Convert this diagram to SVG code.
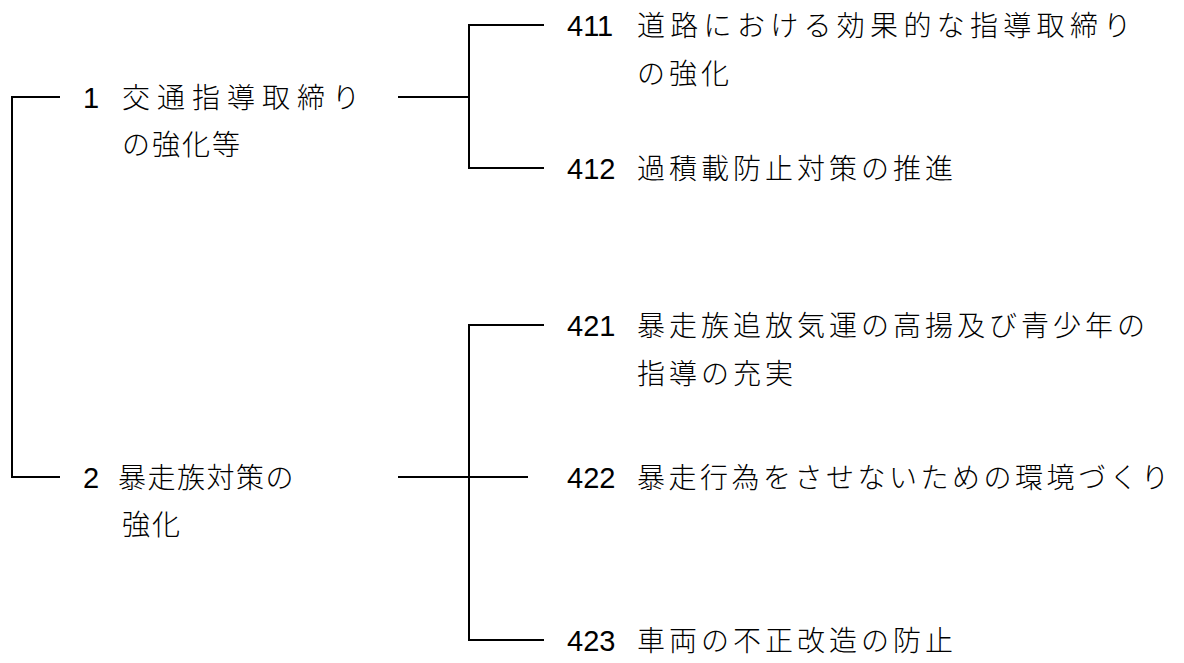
<svg xmlns="http://www.w3.org/2000/svg" width="1184" height="663" viewBox="0 0 1184 663">
<style>
.ln{stroke:#000;stroke-width:2;fill:none}
.num{font-family:"Liberation Sans",Arial,sans-serif;font-size:29px;fill:#000}
.jp{font-family:"Noto Sans CJK JP",sans-serif;font-size:28px;font-weight:300;fill:#000}
.s4{letter-spacing:4px}
</style>
<rect width="1184" height="663" fill="#fff"/>
<g id="connectors">
<path class="ln" d="M60 97 H12 V477 H60"/>
<path class="ln" d="M398 97 H469"/>
<path class="ln" d="M544 25 H469 V168 H544"/>
<path class="ln" d="M398 477 H528"/>
<path class="ln" d="M544 325 H469 V640 H544"/>
</g>
<g id="n1">
<text class="num" x="83" y="108">1</text>
<text class="jp" x="122" y="108" style="letter-spacing:7px">交通指導取締り</text>
<text class="jp" x="122" y="155" style="letter-spacing:2px">の強化等</text>
</g>
<g id="n2">
<text class="num" x="83" y="488">2</text>
<text class="jp" x="118" y="488" style="letter-spacing:1.5px">暴走族対策の</text>
<text class="jp" x="122" y="535" style="letter-spacing:2px">強化</text>
</g>
<g id="n411">
<text class="num" x="567" y="36">411</text>
<text class="jp" x="637" y="36" style="letter-spacing:5.3px">道路における効果的な指導取締り</text>
<text class="jp s4" x="637" y="84">の強化</text>
</g>
<g id="n412">
<text class="num" x="567" y="179">412</text>
<text class="jp s4" x="637" y="179">過積載防止対策の推進</text>
</g>
<g id="n421">
<text class="num" x="567" y="336">421</text>
<text class="jp s4" x="637" y="336">暴走族追放気運の高揚及び青少年の</text>
<text class="jp s4" x="637" y="384">指導の充実</text>
</g>
<g id="n422">
<text class="num" x="567" y="488">422</text>
<text class="jp" x="637" y="488" style="letter-spacing:3.5px">暴走行為をさせないための環境づくり</text>
</g>
<g id="n423">
<text class="num" x="567" y="651">423</text>
<text class="jp s4" x="637" y="651">車両の不正改造の防止</text>
</g>
</svg>
